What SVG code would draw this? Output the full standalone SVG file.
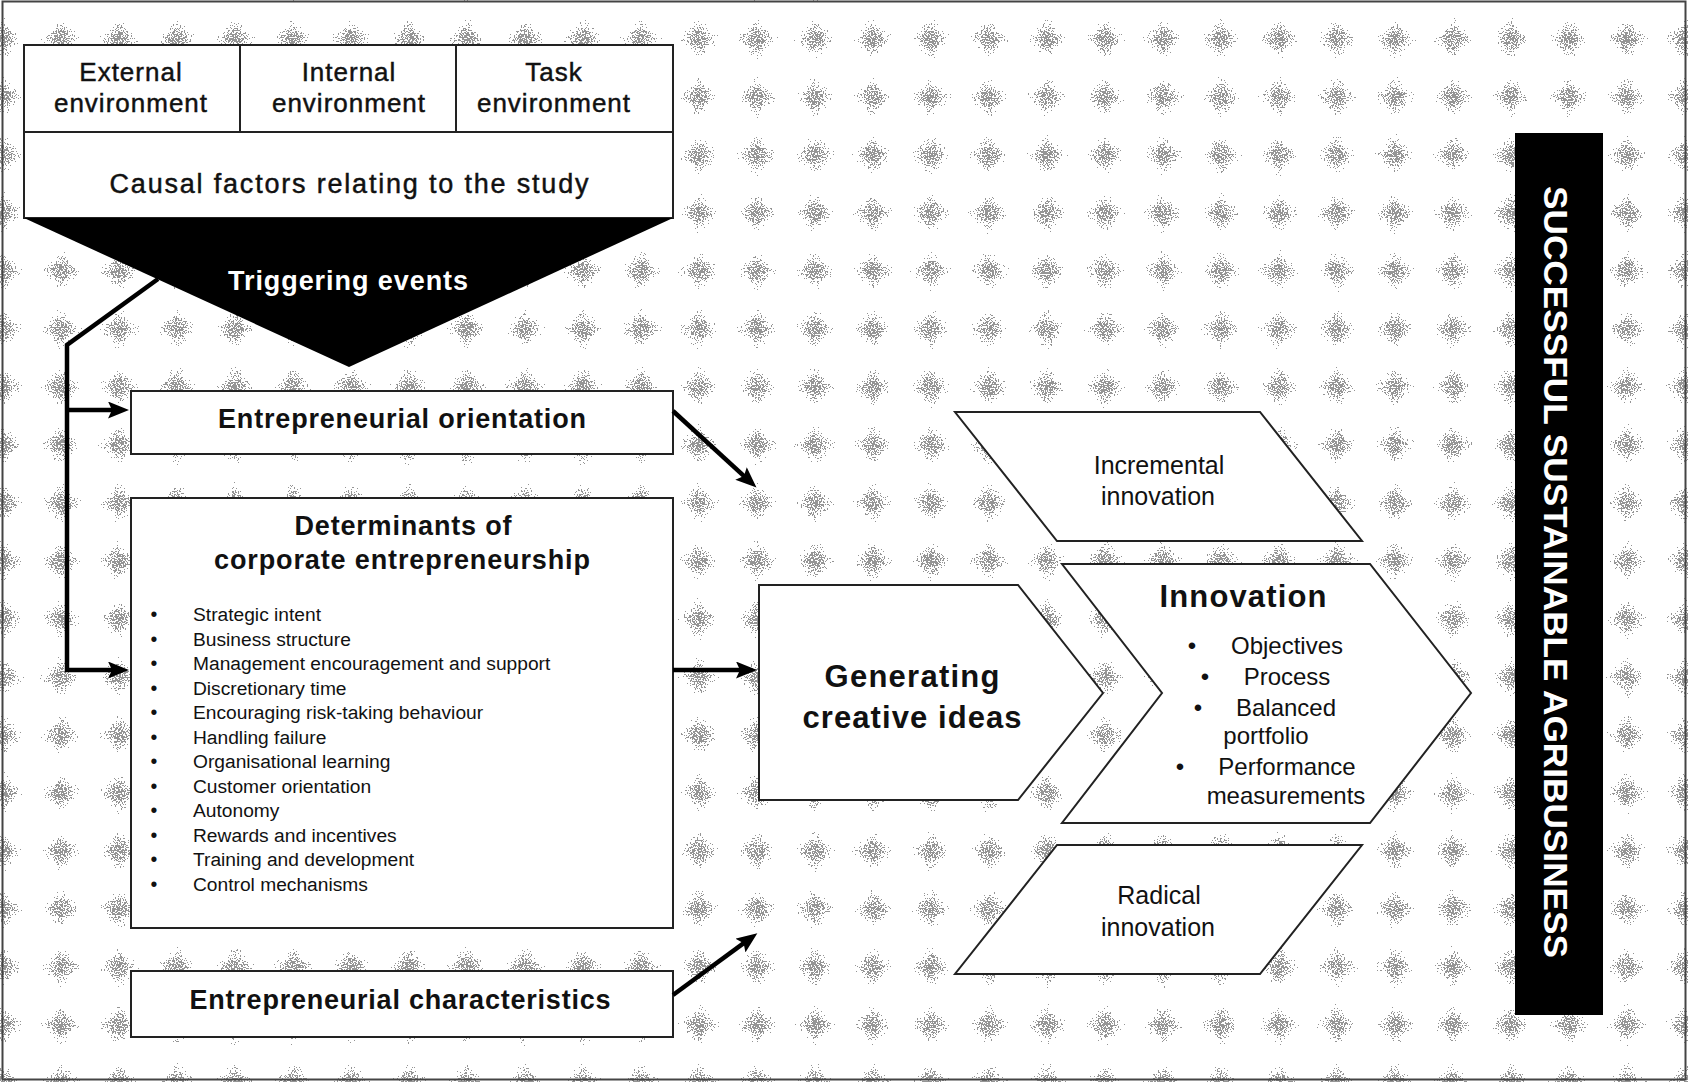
<svg xmlns="http://www.w3.org/2000/svg" width="1688" height="1082" viewBox="0 0 1688 1082">
<style>
text{font-family:"Liberation Sans",Arial,sans-serif;fill:#111}
.rg{stroke:#111;stroke-width:0.45}
.box{fill:#fff;stroke:#222;stroke-width:2}
.env{font-size:26px;letter-spacing:1px;text-anchor:middle}
.hd{font-size:27px;font-weight:bold;text-anchor:middle}
.li{font-size:19.2px}
.bu{font-size:19.5px;text-anchor:middle}
.gc{font-size:31px;font-weight:bold;text-anchor:middle}
.iv{font-size:24px;text-anchor:middle}
.pi{font-size:25px;text-anchor:middle}
.wt{fill:#fff}
.conn{fill:none;stroke:#000;stroke-width:4.5;stroke-linejoin:miter}
</style>
<defs>
<radialGradient id="blob" cx="0.5" cy="0.5" r="0.5">
<stop offset="0" stop-color="#000" stop-opacity="0.75"/>
<stop offset="0.55" stop-color="#000" stop-opacity="0.4"/>
<stop offset="1" stop-color="#000" stop-opacity="0"/>
</radialGradient>
<pattern id="bg" x="-26" y="10" width="58" height="58" patternUnits="userSpaceOnUse">
<ellipse cx="29" cy="29" rx="27" ry="10" fill="url(#blob)"/>
<ellipse cx="29" cy="29" rx="10" ry="27" fill="url(#blob)"/>
<circle cx="29" cy="29" r="19" fill="url(#blob)"/>
</pattern>
<filter id="speck" x="0" y="0" width="100%" height="100%" color-interpolation-filters="sRGB">
<feTurbulence type="fractalNoise" baseFrequency="0.7" numOctaves="2" seed="7" result="n"/>
<feColorMatrix in="n" type="matrix" values="0 0 0 0 0  0 0 0 0 0  0 0 0 0 0  2 0 0 0 -0.5" result="na"/>
<feComposite in="SourceAlpha" in2="na" operator="arithmetic" k1="0" k2="0.8" k3="1" k4="-0.65" result="sum"/>
<feComponentTransfer in="sum">
<feFuncR type="linear" slope="0" intercept="0.48"/>
<feFuncG type="linear" slope="0" intercept="0.48"/>
<feFuncB type="linear" slope="0" intercept="0.48"/>
<feFuncA type="discrete" tableValues="0 0.8"/>
</feComponentTransfer>
</filter>
<marker id="ah" viewBox="0 0 21 17" markerWidth="21" markerHeight="17" markerUnits="userSpaceOnUse" refX="13" refY="8.5" orient="auto">
<path d="M0,0 L21,8.5 L0,17 L4,8.5 z" fill="#000"/>
</marker>
</defs>
<rect x="0" y="0" width="1688" height="1082" fill="#fff"/>
<rect x="0" y="0" width="1688" height="1082" fill="url(#bg)" filter="url(#speck)"/>
<rect x="2.5" y="1.5" width="1683" height="1078" fill="none" stroke="#444" stroke-width="2"/>

<g id="environment-box">
<rect class="box" x="24" y="45" width="649" height="173"/>
<line x1="24" y1="132" x2="673" y2="132" stroke="#222" stroke-width="2"/>
<line x1="240" y1="45" x2="240" y2="132" stroke="#222" stroke-width="2"/>
<line x1="456" y1="45" x2="456" y2="132" stroke="#222" stroke-width="2"/>
<text class="env rg" x="131" y="81">External</text>
<text class="env rg" x="131" y="112">environment</text>
<text class="env rg" x="349" y="81">Internal</text>
<text class="env rg" x="349" y="112">environment</text>
<text class="env rg" x="554" y="81">Task</text>
<text class="env rg" x="554" y="112">environment</text>
<text class="rg" x="349" y="193" font-size="27" text-anchor="middle" textLength="479" lengthAdjust="spacing">Causal factors relating to the study</text>
</g>

<g id="triggering-events">
<polygon points="24,218 673,218 349,367" fill="#000"/>
<text class="hd wt" x="348" y="290" textLength="240" lengthAdjust="spacing">Triggering events</text>
</g>

<g id="entrepreneurial-orientation">
<rect class="box" x="131" y="391" width="542" height="63"/>
<text class="hd" x="402" y="428" textLength="368" lengthAdjust="spacing">Entrepreneurial orientation</text>
</g>

<g id="determinants">
<rect class="box" x="131" y="498" width="542" height="430"/>
<text class="hd" x="403" y="535" textLength="217" lengthAdjust="spacing">Determinants of</text>
<text class="hd" x="402" y="569" textLength="376" lengthAdjust="spacing">corporate entrepreneurship</text>
<text class="bu" x="154" y="621">•</text><text class="li" x="193" y="621">Strategic intent</text>
<text class="bu" x="154" y="645.5">•</text><text class="li" x="193" y="645.5">Business structure</text>
<text class="bu" x="154" y="670">•</text><text class="li" x="193" y="670">Management encouragement and support</text>
<text class="bu" x="154" y="694.5">•</text><text class="li" x="193" y="694.5">Discretionary time</text>
<text class="bu" x="154" y="719">•</text><text class="li" x="193" y="719">Encouraging risk-taking behaviour</text>
<text class="bu" x="154" y="743.5">•</text><text class="li" x="193" y="743.5">Handling failure</text>
<text class="bu" x="154" y="768">•</text><text class="li" x="193" y="768">Organisational learning</text>
<text class="bu" x="154" y="792.5">•</text><text class="li" x="193" y="792.5">Customer orientation</text>
<text class="bu" x="154" y="817">•</text><text class="li" x="193" y="817">Autonomy</text>
<text class="bu" x="154" y="841.5">•</text><text class="li" x="193" y="841.5">Rewards and incentives</text>
<text class="bu" x="154" y="866">•</text><text class="li" x="193" y="866">Training and development</text>
<text class="bu" x="154" y="890.5">•</text><text class="li" x="193" y="890.5">Control mechanisms</text>
</g>

<g id="entrepreneurial-characteristics">
<rect class="box" x="131" y="971" width="542" height="66"/>
<text class="hd" x="400" y="1009" textLength="421" lengthAdjust="spacing">Entrepreneurial characteristics</text>
</g>

<g id="generating-creative-ideas">
<polygon class="box" points="759,585 1018,585 1103,693 1018,800 759,800"/>
<text class="gc" x="912" y="687" textLength="175" lengthAdjust="spacing">Generating</text>
<text class="gc" x="912" y="728" textLength="219" lengthAdjust="spacing">creative ideas</text>
</g>

<g id="innovation">
<polygon class="box" points="1062,564 1370,564 1471,693 1370,823 1062,823 1162,693"/>
<text class="gc" x="1243" y="607" textLength="167" lengthAdjust="spacing">Innovation</text>
<text class="iv" x="1192" y="654">•</text><text class="iv" x="1287" y="654">Objectives</text>
<text class="iv" x="1205" y="685">•</text><text class="iv" x="1287" y="685">Process</text>
<text class="iv" x="1198" y="716">•</text><text class="iv" x="1286" y="716">Balanced</text>
<text class="iv" x="1266" y="744">portfolio</text>
<text class="iv" x="1180" y="775">•</text><text class="iv" x="1287" y="775">Performance</text>
<text class="iv" x="1286" y="804">measurements</text>
</g>

<g id="incremental-innovation">
<polygon class="box" points="955,412 1260,412 1362,541 1057,541"/>
<text class="pi" x="1159" y="474">Incremental</text>
<text class="pi" x="1158" y="505">innovation</text>
</g>

<g id="radical-innovation">
<polygon class="box" points="1057,845 1362,845 1260,974 955,974"/>
<text class="pi" x="1159" y="904">Radical</text>
<text class="pi" x="1158" y="936">innovation</text>
</g>

<g id="successful-sustainable-agribusiness">
<rect x="1515" y="133" width="88" height="882" fill="#000"/>
<text class="wt" transform="translate(1556,572) rotate(90)" x="0" y="12" font-size="34" font-weight="bold" text-anchor="middle" textLength="772" lengthAdjust="spacingAndGlyphs">SUCCESSFUL SUSTAINABLE AGRIBUSINESS</text>
</g>

<g id="connectors">
<path class="conn" d="M158,279 L67,345 L67,670 L121,670" marker-end="url(#ah)"/>
<path class="conn" d="M67,410 L121,410" marker-end="url(#ah)"/>
<path class="conn" d="M673,411 L750.6,482.2" marker-end="url(#ah)"/>
<path class="conn" d="M673,995 L750.9,937.9" marker-end="url(#ah)"/>
<path class="conn" d="M673,670 L749,670" marker-end="url(#ah)"/>
</g>
</svg>
